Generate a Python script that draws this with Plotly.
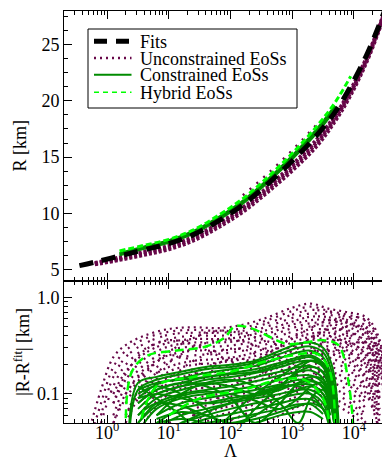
import plotly.graph_objects as go

# ---------------- data ----------------
# Top panel: R [km] versus log10(Lambda)
TOP_LOG_LAMBDA = [-0.45, -0.2, 0.2, 0.6, 1.0, 1.4, 1.8, 2.2, 2.6, 3.0, 3.4, 3.7, 3.95, 4.2, 4.4, 4.55]
FIT_R      = [5.34, 5.65, 6.20, 6.75, 7.30, 8.10, 9.30, 10.75, 12.60, 14.65, 16.95, 19.05, 21.30, 24.00, 26.60, 28.80]
UNC_R_LOW  = [None, 5.45, 5.85, 6.30, 6.80, 7.58, 8.75, 10.13, 11.88, 13.80, 16.00, 18.25, 20.55, 23.40, 26.20, 28.70]
UNC_R_Q    = [None, 5.51, 5.96, 6.44, 6.95, 7.74, 8.92, 10.32, 12.10, 14.06, 16.29, 18.49, 20.78, 23.58, 26.32, 28.73]
UNC_R_MID  = [None, 5.57, 6.06, 6.57, 7.10, 7.89, 9.08, 10.50, 12.31, 14.31, 16.57, 18.73, 21.00, 23.76, 26.44, 28.76]
UNC_R_HIGH = [None, None, None, None, None, None, None, 11.60, 13.50, 15.60, 17.90, None, None, None, None, None]
CON_R_HIGH = [None, None, 6.40, 7.00, 7.55, 8.38, 9.60, 11.08, 12.95, 15.07, 17.45, 19.55, None, None, None, None]
CON_R_MID  = [None, None, 6.30, 6.88, 7.42, 8.24, 9.45, 10.92, 12.78, 14.86, 17.20, 19.30, None, None, None, None]
HYB_R      = [None, None, 6.65, 7.15, 7.68, 8.52, 9.80, 11.30, 13.20, 15.33, 17.75, 19.90, 22.20, None, None, None]

# Bottom panel: |R - R_fit| [km] versus log10(Lambda)
UNC_LOG_LAMBDA = [-0.3, -0.1, 0.1, 0.3, 0.6, 1.0, 1.4, 1.8, 2.2, 2.6, 3.0, 3.3, 3.6, 3.9, 4.2, 4.42, 4.52]
N = None
UNC_DEV = [
    [0.04, 0.11, 0.24, 0.32, 0.40, 0.47, 0.49, 0.48, 0.52, 0.62, 0.78, 0.86, 0.76, 0.70, 0.62, 0.36, 0.05],
    [0.03, 0.08, 0.19, 0.28, 0.37, 0.44, 0.46, 0.45, 0.48, 0.58, 0.72, 0.80, 0.72, 0.66, 0.56, 0.30, 0.04],
    [N, 0.06, 0.15, 0.24, 0.33, 0.41, 0.43, 0.43, 0.45, 0.54, 0.66, 0.74, 0.70, 0.62, 0.50, 0.26, 0.04],
    [N, 0.05, 0.12, 0.20, 0.29, 0.37, 0.40, 0.40, 0.42, 0.50, 0.61, 0.68, 0.66, 0.58, 0.46, 0.22, 0.03],
    [N, N, 0.10, 0.17, 0.26, 0.34, 0.37, 0.37, 0.39, 0.46, 0.56, 0.63, 0.62, 0.54, 0.42, 0.19, 0.03],
    [N, N, 0.08, 0.14, 0.23, 0.31, 0.34, 0.34, 0.36, 0.42, 0.52, 0.58, 0.58, 0.50, 0.38, 0.17, N],
    [N, N, 0.06, 0.12, 0.20, 0.28, 0.31, 0.31, 0.33, 0.39, 0.48, 0.54, 0.54, 0.46, 0.34, 0.15, N],
    [N, N, 0.05, 0.10, 0.17, 0.25, 0.28, 0.28, 0.30, 0.36, 0.44, 0.50, 0.50, 0.42, 0.31, 0.13, N],
    [N, N, N, 0.08, 0.15, 0.22, 0.25, 0.26, 0.28, 0.33, 0.40, 0.46, 0.46, 0.39, 0.28, 0.12, N],
    [N, N, N, 0.06, 0.13, 0.19, 0.22, 0.23, 0.25, 0.30, 0.37, 0.42, 0.43, 0.36, 0.25, 0.10, N],
    [N, N, N, 0.05, 0.11, 0.17, 0.20, 0.21, 0.23, 0.27, 0.34, 0.39, 0.40, 0.33, 0.23, 0.09, N],
    [N, N, N, N, 0.09, 0.15, 0.18, 0.19, 0.21, 0.25, 0.31, 0.36, 0.37, 0.30, 0.21, 0.08, N],
    [N, N, N, N, 0.07, 0.13, 0.16, 0.17, 0.19, 0.23, 0.28, 0.33, 0.34, 0.28, 0.19, 0.07, N],
    [N, N, N, N, 0.06, 0.11, 0.14, 0.15, 0.17, 0.21, 0.26, 0.30, 0.31, 0.26, 0.17, 0.06, N],
    [N, N, N, N, 0.05, 0.10, 0.12, 0.13, 0.15, 0.19, 0.23, 0.27, 0.28, 0.24, 0.15, 0.06, N],
    [N, N, N, N, N, 0.08, 0.11, 0.12, 0.13, 0.17, 0.21, 0.25, 0.26, 0.22, 0.14, 0.05, N],
    [N, N, N, N, N, 0.07, 0.09, 0.10, 0.12, 0.15, 0.19, 0.22, 0.23, 0.20, 0.12, 0.05, N],
    [N, N, N, N, N, 0.06, 0.08, 0.09, 0.10, 0.13, 0.17, 0.20, 0.21, 0.18, 0.11, 0.04, N],
    [N, N, N, N, N, 0.05, 0.07, 0.08, 0.09, 0.11, 0.15, 0.18, 0.19, 0.16, 0.10, 0.04, N],
    [N, N, N, N, N, N, 0.06, 0.07, 0.08, 0.10, 0.13, 0.16, 0.17, 0.14, 0.09, N, N],
    [N, N, N, N, N, N, 0.05, 0.06, 0.07, 0.09, 0.11, 0.14, 0.15, 0.125, 0.08, N, N],
    [N, N, N, N, N, N, N, 0.05, 0.06, 0.08, 0.10, 0.12, 0.13, 0.11, 0.07, N, N],
    [N, N, N, N, N, N, N, N, 0.05, 0.07, 0.09, 0.105, 0.115, 0.095, 0.06, N, N],
    [N, N, N, N, N, N, N, N, N, 0.06, 0.08, 0.09, 0.10, 0.085, 0.055, N, N],
    [N, N, N, N, N, N, N, N, N, 0.05, 0.07, 0.08, 0.09, 0.075, 0.05, N, N],
    [N, N, N, N, N, N, N, N, N, N, 0.06, 0.07, 0.08, 0.065, 0.045, N, N],
    # curves with a different shape, crossing the others
    [N, N, 0.05, 0.09, 0.16, 0.27, 0.38, 0.45, 0.42, 0.35, 0.30, 0.36, 0.50, 0.62, 0.58, 0.33, 0.04],
    [N, N, N, 0.06, 0.12, 0.21, 0.30, 0.36, 0.35, 0.28, 0.22, 0.26, 0.38, 0.50, 0.48, 0.26, N],
    [N, N, N, N, 0.08, 0.14, 0.22, 0.28, 0.29, 0.22, 0.16, 0.19, 0.30, 0.40, 0.40, 0.20, N],
    [N, N, N, N, N, 0.10, 0.16, 0.21, 0.23, 0.17, 0.11, 0.14, 0.23, 0.32, 0.33, 0.16, N],
    [N, N, 0.08, 0.16, 0.28, 0.36, 0.32, 0.25, 0.20, 0.26, 0.38, 0.48, 0.58, 0.55, 0.44, 0.24, 0.04],
    [N, N, N, 0.10, 0.18, 0.25, 0.22, 0.16, 0.13, 0.18, 0.28, 0.38, 0.47, 0.44, 0.34, 0.18, N],
    [N, N, N, N, 0.10, 0.15, 0.13, 0.09, 0.08, 0.12, 0.20, 0.28, 0.36, 0.34, 0.26, 0.12, N],
    [N, N, N, N, N, 0.07, 0.06, 0.05, 0.06, 0.09, 0.14, 0.20, 0.28, 0.27, 0.20, 0.09, N],
]

CON_LOG_LAMBDA = [0.35, 0.5, 0.8, 1.2, 1.6, 2.0, 2.4, 2.8, 3.1, 3.3, 3.5, 3.62, 3.7, 3.76]
CON_DEV = [
    [0.04, 0.13, 0.15, 0.17, 0.19, 0.20, 0.22, 0.28, 0.33, 0.34, 0.30, 0.22, 0.13, 0.04],
    [0.03, 0.11, 0.14, 0.16, 0.18, 0.19, 0.21, 0.26, 0.30, 0.31, 0.27, 0.19, 0.10, 0.03],
    [N, 0.09, 0.125, 0.145, 0.165, 0.18, 0.195, 0.235, 0.27, 0.28, 0.24, 0.16, 0.08, 0.03],
    [N, 0.08, 0.11, 0.13, 0.15, 0.165, 0.18, 0.21, 0.24, 0.25, 0.21, 0.14, 0.07, N],
    [N, 0.07, 0.10, 0.12, 0.14, 0.15, 0.165, 0.19, 0.215, 0.22, 0.19, 0.12, 0.06, N],
    [N, 0.06, 0.09, 0.11, 0.125, 0.135, 0.15, 0.17, 0.19, 0.195, 0.165, 0.10, 0.05, N],
    [N, 0.05, 0.08, 0.10, 0.11, 0.12, 0.135, 0.155, 0.17, 0.175, 0.145, 0.09, 0.04, N],
    [N, 0.04, 0.07, 0.09, 0.10, 0.11, 0.12, 0.14, 0.155, 0.155, 0.13, 0.08, 0.04, N],
    [N, N, 0.06, 0.08, 0.09, 0.10, 0.11, 0.125, 0.14, 0.14, 0.115, 0.07, N, N],
    [N, N, 0.05, 0.07, 0.08, 0.09, 0.10, 0.115, 0.125, 0.125, 0.10, 0.06, N, N],
    [N, N, 0.045, 0.06, 0.07, 0.08, 0.09, 0.10, 0.11, 0.11, 0.09, 0.05, N, N],
    [N, N, N, 0.05, 0.06, 0.07, 0.08, 0.09, 0.10, 0.10, 0.08, 0.045, N, N],
    [N, N, N, 0.045, 0.055, 0.062, 0.07, 0.08, 0.088, 0.088, 0.07, 0.04, N, N],
    [N, N, N, N, 0.05, 0.055, 0.062, 0.07, 0.078, 0.078, 0.062, N, N, N],
    [N, 0.12, 0.09, 0.06, 0.035, 0.06, 0.10, 0.15, 0.20, 0.22, 0.20, 0.14, 0.06, N],
    [N, 0.10, 0.12, 0.10, 0.07, 0.04, 0.07, 0.12, 0.17, 0.19, 0.17, 0.11, 0.05, N],
    [N, 0.08, 0.11, 0.13, 0.12, 0.09, 0.05, 0.08, 0.13, 0.15, 0.14, 0.09, 0.04, N],
    [N, N, 0.06, 0.10, 0.13, 0.14, 0.12, 0.08, 0.05, 0.09, 0.11, 0.08, N, N],
    [N, 0.11, 0.13, 0.14, 0.15, 0.16, 0.17, 0.20, 0.23, 0.24, 0.20, 0.12, 0.05, N],
    [N, N, 0.10, 0.12, 0.13, 0.12, 0.10, 0.12, 0.18, 0.22, 0.21, 0.15, 0.07, N],
    [N, 0.05, 0.075, 0.095, 0.105, 0.10, 0.085, 0.07, 0.09, 0.12, 0.13, 0.10, 0.05, N],
    [N, N, 0.055, 0.065, 0.06, 0.05, 0.06, 0.09, 0.11, 0.12, 0.10, 0.07, N, N],
    [N, 0.09, 0.10, 0.09, 0.08, 0.085, 0.095, 0.11, 0.13, 0.135, 0.12, 0.08, 0.04, N],
    [N, N, 0.04, 0.05, 0.065, 0.08, 0.10, 0.12, 0.12, 0.10, 0.07, 0.05, N, N],
    [N, 0.06, 0.08, 0.075, 0.06, 0.05, 0.055, 0.065, 0.075, 0.08, 0.07, 0.05, N, N],
    [N, N, 0.05, 0.055, 0.05, 0.045, 0.05, 0.06, 0.065, 0.065, 0.055, N, N, N],
]

HYB_CURVES = [
    ([0.3, 0.4, 0.66, 1.1, 1.6, 1.9, 2.07, 2.33, 2.6, 2.9, 3.2, 3.5, 3.75, 3.9, 4.0],
     [0.04, 0.17, 0.25, 0.28, 0.31, 0.38, 0.50, 0.48, 0.40, 0.33, 0.34, 0.36, 0.32, 0.15, 0.04]),
    ([0.5, 0.8, 1.4, 2.0, 2.6, 3.0, 3.4, 3.6, 3.7],
     [0.04, 0.12, 0.15, 0.17, 0.22, 0.25, 0.26, 0.18, 0.04]),
    ([1.0, 1.5, 2.2, 2.8, 3.2, 3.5, 3.62],
     [0.06, 0.09, 0.11, 0.14, 0.14, 0.09, 0.04]),
]

X_TICK_VALUES = [1, 10, 100, 1000, 10000]
X_TICK_TEXT = ["10<sup>0</sup>", "10<sup>1</sup>", "10<sup>2</sup>", "10<sup>3</sup>", "10<sup>4</sup>"]
LEGEND_LABELS = ["Fits", "Unconstrained EoSs", "Constrained EoSs", "Hybrid EoSs"]

# ---------------- styles ----------------
PURPLE = "rgb(103,7,72)"
DGREEN = "rgb(0,139,0)"
LGREEN = "rgb(0,255,0)"
FONT = "Liberation Serif, Times New Roman, DejaVu Serif, serif"
DOT_PATTERNS = ["2px,4px", "2px,5px", "2px,3px,2px,6px", "2px,6px", "2px,4px,2px,3px"]


def lam(logs):
    return [10 ** v for v in logs]


fig = go.Figure()

# ---- bottom panel ----
for i, row in enumerate(UNC_DEV):
    fig.add_trace(go.Scatter(x=lam(UNC_LOG_LAMBDA), y=row, mode="lines", xaxis="x", yaxis="y",
                             line=dict(color=PURPLE, width=2.2, dash=DOT_PATTERNS[i % len(DOT_PATTERNS)],
                                       shape="spline"),
                             hoverinfo="skip", showlegend=False))
for row in CON_DEV:
    fig.add_trace(go.Scatter(x=lam(CON_LOG_LAMBDA), y=row, mode="lines", xaxis="x", yaxis="y",
                             line=dict(color=DGREEN, width=2, shape="spline"),
                             hoverinfo="skip", showlegend=False))
for xs, ys in HYB_CURVES:
    fig.add_trace(go.Scatter(x=lam(xs), y=ys, mode="lines", xaxis="x", yaxis="y",
                             line=dict(color=LGREEN, width=2.5, dash="9px,5px", shape="spline"),
                             hoverinfo="skip", showlegend=False))

# ---- top panel ----
for arr in [UNC_R_LOW, UNC_R_Q, UNC_R_MID]:
    fig.add_trace(go.Scatter(x=lam(TOP_LOG_LAMBDA), y=arr, mode="lines", xaxis="x2", yaxis="y2",
                             line=dict(color=PURPLE, width=4, dash="3px,2px", shape="spline"),
                             hoverinfo="skip", showlegend=False))
fig.add_trace(go.Scatter(x=lam(TOP_LOG_LAMBDA), y=UNC_R_HIGH, mode="lines", xaxis="x2", yaxis="y2",
                         line=dict(color=PURPLE, width=2.5, dash="2px,7px", shape="spline"),
                         hoverinfo="skip", showlegend=False))
for arr in [CON_R_HIGH, CON_R_MID]:
    fig.add_trace(go.Scatter(x=lam(TOP_LOG_LAMBDA), y=arr, mode="lines", xaxis="x2", yaxis="y2",
                             line=dict(color=DGREEN, width=3, shape="spline"),
                             hoverinfo="skip", showlegend=False))
fig.add_trace(go.Scatter(x=lam(TOP_LOG_LAMBDA), y=HYB_R, mode="lines", xaxis="x2", yaxis="y2",
                         line=dict(color=LGREEN, width=3, dash="6px,3px", shape="spline"),
                         hoverinfo="skip", showlegend=False))
fig.add_trace(go.Scatter(x=lam(TOP_LOG_LAMBDA), y=FIT_R, mode="lines", xaxis="x2", yaxis="y2",
                         line=dict(color="black", width=5, dash="14px,9px", shape="spline"),
                         hoverinfo="skip", showlegend=False))

# ---- axes ----
x_minor = [k * d for d in [0.1, 1, 10, 100, 1000, 10000] for k in range(2, 10)]
common_x = dict(type="log", range=[-0.7, 4.7], showline=True, linecolor="black", linewidth=1,
                mirror="ticks", ticks="inside", ticklen=8, tickwidth=1, tickcolor="black",
                showgrid=False, zeroline=False, tickvals=X_TICK_VALUES, automargin=False,
                minor=dict(tickvals=x_minor, ticks="inside", ticklen=4, tickcolor="black", showgrid=False))
y_minor_bottom = [0.05, 0.06, 0.07, 0.08, 0.09, 0.2, 0.3, 0.4, 0.5, 0.6, 0.7, 0.8, 0.9]

fig.update_layout(
    width=390, height=459,
    margin=dict(l=56, r=1, t=3, b=44),
    paper_bgcolor="white", plot_bgcolor="white",
    showlegend=False,
    font=dict(family=FONT, size=18, color="black"),
    xaxis=dict(common_x, anchor="y", domain=[0, 1], ticktext=X_TICK_TEXT,
               tickfont=dict(family=FONT, size=18), ticklabelstandoff=-7),
    xaxis2=dict(common_x, anchor="y2", matches="x", showticklabels=False),
    yaxis=dict(type="log", range=[-1.301, 0.172], domain=[0, 0.3454], anchor="x", automargin=False,
               showline=True, linecolor="black", linewidth=1, mirror="ticks",
               ticks="inside", ticklen=8, tickcolor="black", showgrid=False, zeroline=False,
               tickvals=[0.1, 1], ticktext=["0.1", "1.0"], tickfont=dict(family=FONT, size=18),
               minor=dict(tickvals=y_minor_bottom, ticks="inside", ticklen=4, tickcolor="black", showgrid=False),
               title=dict(text="|R-R<sup>fit</sup>| [km]", font=dict(family=FONT, size=18), standoff=2)),
    yaxis2=dict(range=[4, 28], domain=[0.3454, 1], anchor="x2", automargin=False,
                showline=True, linecolor="black", linewidth=1, mirror="ticks",
                ticks="inside", ticklen=8, tickcolor="black", showgrid=False, zeroline=False,
                tickvals=[5, 10, 15, 20, 25], tickfont=dict(family=FONT, size=18),
                minor=dict(dtick=1.25, tick0=5, ticks="inside", ticklen=4, tickcolor="black", showgrid=False),
                title=dict(text="R [km]", font=dict(family=FONT, size=18), standoff=10)),
)


# ---- helpers for paper placement ----
def px_x(p):
    return (p - 56) / 333.0


def px_y(p):
    return (415 - p) / 412.0


# x-axis title (Lambda)
fig.add_annotation(xref="paper", yref="paper", x=0.5, y=px_y(443), xanchor="center", yanchor="middle",
                   text="Λ", showarrow=False, font=dict(family=FONT, size=18, color="black"))

# ---- legend (framed box with sample lines and text) ----
fig.add_shape(type="rect", xref="paper", yref="paper",
              x0=px_x(80), x1=px_x(289), y0=px_y(100), y1=px_y(21),
              line=dict(color="black", width=1), fillcolor="white", layer="above")
legend_styles = [
    dict(color="black", width=5, dash="13px,9px"),
    dict(color=PURPLE, width=2.5, dash="2px,4px"),
    dict(color=DGREEN, width=2),
    dict(color=LGREEN, width=1.5, dash="5px,4px"),
]
legend_rows = [33.3, 50.0, 66.7, 84.3]
for label, style, py in zip(LEGEND_LABELS, legend_styles, legend_rows):
    fig.add_shape(type="line", xref="paper", yref="paper",
                  x0=px_x(86), x1=px_x(123.5), y0=px_y(py), y1=px_y(py), line=style, layer="above")
    fig.add_annotation(xref="paper", yref="paper", x=px_x(130), y=px_y(py + 0.5),
                       xanchor="left", yanchor="middle", text=label, showarrow=False,
                       font=dict(family=FONT, size=18, color="black"))

fig.write_html("out.html")
